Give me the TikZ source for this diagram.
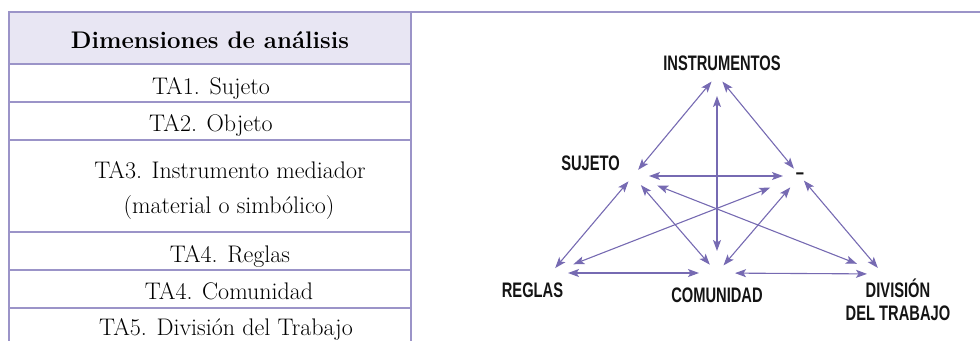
\documentclass[tikz,border=0pt]{standalone}
\usepackage{fontspec}
\usetikzlibrary{positioning,arrows.meta}

\newfontfamily\lblfont[FakeStretch=0.7]{Liberation Sans}

\definecolor{tabline}{RGB}{155,148,200}
\definecolor{headfill}{RGB}{232,230,243}
\definecolor{linkcol}{RGB}{118,106,178}

\tikzset{
    cell/.style={font=\fontsize{24}{28}\selectfont, inner sep=0pt, anchor=base},
    lbl/.style={font=\lblfont\bfseries\fontsize{21}{22.5}\selectfont, inner sep=0pt, text=black!92, align=center},
    link/.style 2 args={<->, draw=linkcol, line width=1.1pt, shorten <=#1, shorten >=#2}
}

\begin{document}
\begin{tikzpicture}[
            x=1pt, y=-1pt,
            >={Stealth[length=11pt,width=8pt,inset=2.5pt]}
            ]
            \useasboundingbox (0,0) rectangle (980,341);
            \clip (0,0) rectangle (980,341);

            % table
            \fill[headfill] (9,12) rectangle (411,64);
            \draw[tabline, line width=1.5pt] (8,12) -- (980,12);
            \draw[tabline, line width=1.5pt] (9,12) -- (9,341);
            \draw[tabline, line width=1.5pt] (411,12) -- (411,341);
            \foreach \y in {64,102,140,232,270,308}
                \draw[tabline, line width=1.5pt] (9,\y) -- (411,\y);

            \node [cell, font=\fontsize{24}{28}\selectfont\bfseries] (dimhead) at (210,48) {Dimensiones de análisis};
            \node [cell] (ta1) at (211,94) {TA1. Sujeto};
            \node [cell] (ta2) at (211,131) {TA2. Objeto};
            \node [cell] (ta3) at (230,178) {TA3. Instrumento mediador};
            \node [cell] (ta3b) at (229,213) {(material o simbólico)};
            \node [cell] (ta4) at (230,262) {TA4. Reglas};
            \node [cell] (ta4b) at (229,299) {TA4. Comunidad};
            \node [cell] (ta5) at (226,335) {TA5. División del Trabajo};

            % triangle hubs
            \node [coordinate] (ins) at (717,75) {};
            \node [coordinate] (suj) at (633,176) {};
            \node [coordinate] (obj) at (800,176) {};
            \node [coordinate] (reg) at (551,273) {};
            \node [coordinate] (com) at (717,273) {};
            \node [coordinate] (div) at (883,274) {};

            \node [lbl, anchor=south, above=4pt of ins, xshift=5pt] (lblins) {INSTRUMENTOS};
            \node [lbl, above left=5pt and 13pt of suj] (lblsuj) {SUJETO};
            \node [lbl] (lblobj) at (obj) {–};
            \node [lbl, below=10pt of reg, xshift=-18.5pt] (lblreg) {REGLAS};
            \node [lbl, below=15pt of com] (lblcom) {COMUNIDAD};
            \node [lbl, below=5pt of div, xshift=15pt] (lbldiv) {DIVISIÓN\\DEL TRABAJO};

            \draw[link={8.5pt}{8pt}] (ins) -- (suj);
            \draw[link={8.5pt}{9.5pt}] (ins) -- (obj);
            \draw[link={21pt}{22pt}] (ins) -- (com);
            \draw[link={16pt}{17pt}] (suj) -- (obj);
            \draw[link={7pt}{6.5pt}] (suj) -- (reg);
            \draw[link={12pt}{11pt}] (suj) -- (com);
            \draw[link={26pt}{28pt}] (suj) -- (div);
            \draw[link={24pt}{32pt}] (reg) -- (obj);
            \draw[link={10pt}{15pt}] (com) -- (obj);
            \draw[link={6pt}{8pt}] (obj) -- (div);
            \draw[link={17pt}{18pt}] (reg) -- (com);
            \draw[link={18pt}{16pt}] (com) -- (div);
\end{tikzpicture}
\end{document}
